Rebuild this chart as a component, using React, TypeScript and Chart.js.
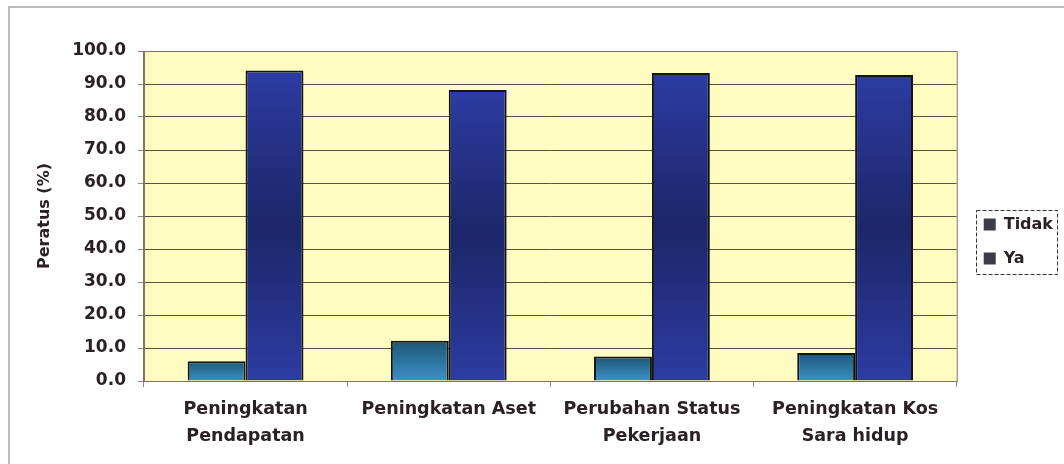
import React, { useEffect, useRef } from "react";
import { Chart, registerables } from "chart.js";

Chart.register(...registerables);

const categories: (string | string[])[] = [
  ["Peningkatan", "Pendapatan"],
  "Peningkatan Aset",
  ["Perubahan Status", "Pekerjaan"],
  ["Peningkatan Kos", "Sara hidup"],
];
const seriesNames = ["Tidak", "Ya"];
const tidakValues = [6.0, 12.2, 7.4, 8.5];
const yaValues = [94.1, 88.2, 93.3, 92.7];
const yTitle = "Peratus (%)";

const TEXT = "#2a2025";
const FONT = "'DejaVu Sans', 'Liberation Sans', Arial, sans-serif";

function barGradient(ctx: any, kind: "tidak" | "ya") {
  const chart = ctx.chart;
  const area = chart.chartArea;
  if (!area) return kind === "ya" ? "#2b3a9c" : "#2a77a6";
  const y = chart.scales.y;
  const v = ctx.raw as number;
  const top = y.getPixelForValue(v);
  const bottom = y.getPixelForValue(0);
  const g = chart.ctx.createLinearGradient(0, top, 0, bottom + 0.01);
  if (kind === "tidak") {
    g.addColorStop(0, "#1d5673");
    g.addColorStop(0.6, "#2f7aa8");
    g.addColorStop(1, "#3f90c4");
  } else {
    g.addColorStop(0, "#2c3ca2");
    g.addColorStop(0.5, "#1c2668");
    g.addColorStop(1, "#2c3ca2");
  }
  return g;
}

const framePlugin = {
  id: "frame",
  beforeDraw(chart: any) {
    const { ctx, chartArea: a, width, height } = chart;
    ctx.save();
    ctx.fillStyle = "#ffffff";
    ctx.fillRect(0, 0, width, height);
    ctx.fillStyle = "#fffcc2";
    ctx.fillRect(a.left, a.top, a.right - a.left, a.bottom - a.top);
    ctx.strokeStyle = "#a6a6a6";
    ctx.lineWidth = 1.5;
    ctx.beginPath();
    ctx.moveTo(9, height);
    ctx.lineTo(9, 7);
    ctx.lineTo(width, 7);
    ctx.stroke();
    ctx.restore();
  },
  afterDraw(chart: any) {
    const { ctx, chartArea: a } = chart;
    ctx.save();
    ctx.strokeStyle = "#8b6f5f";
    ctx.lineWidth = 1;
    ctx.strokeRect(a.left + 0.5, a.top + 0.5, a.right - a.left, a.bottom - a.top);
    const lg = chart.legend;
    if (lg && lg.legendHitBoxes && lg.legendHitBoxes.length) {
      const hb = lg.legendHitBoxes;
      let l = Infinity, r = -Infinity;
      hb.forEach((h: any) => {
        l = Math.min(l, h.left);
        r = Math.max(r, h.left + h.width);
      });
      const c0 = hb[0].top + hb[0].height / 2;
      const c1 = hb[hb.length - 1].top + hb[hb.length - 1].height / 2;
      ctx.strokeStyle = "#333333";
      ctx.lineWidth = 1;
      ctx.setLineDash([4, 2]);
      ctx.strokeRect(Math.round(l - 8) + 0.5, Math.round(c0 - 15) + 0.5, Math.round(r - l + 12), Math.round(c1 - c0 + 30));
    }
    ctx.restore();
  },
};

export default function App() {
  const ref = useRef<HTMLCanvasElement | null>(null);
  useEffect(() => {
    document.body.style.margin = "0";
    const canvas = ref.current;
    if (!canvas) return;
    const chart = new Chart(canvas, {
      type: "bar",
      data: {
        labels: categories,
        datasets: [
          {
            label: seriesNames[0],
            data: tidakValues,
            backgroundColor: (c: any) => barGradient(c, "tidak"),
            borderColor: "#141414",
            borderWidth: 2,
            categoryPercentage: 0.57,
            barPercentage: 1.0,
          },
          {
            label: seriesNames[1],
            data: yaValues,
            backgroundColor: (c: any) => barGradient(c, "ya"),
            borderColor: "#141414",
            borderWidth: 2,
            categoryPercentage: 0.57,
            barPercentage: 1.0,
          },
        ],
      },
      options: {
        animation: false,
        responsive: false,
        maintainAspectRatio: false,
        layout: { padding: { left: 35.5, top: 51, right: 1, bottom: 5 } },
        plugins: {
          tooltip: { enabled: false },
          legend: {
            position: "right",
            align: "center",
            fullSize: false,
            title: {
              display: true,
              text: " ",
              font: { family: FONT, size: 12 },
              padding: 18.3,
            },
            labels: {
              boxWidth: 12,
              boxHeight: 12,
              padding: 18,
              color: TEXT,
              font: { family: FONT, size: 16, weight: "bold" },
              generateLabels: (ch: any) =>
                ch.data.datasets.map((d: any, i: number) => ({
                  text: d.label,
                  fillStyle: "#3a3a48",
                  strokeStyle: "#3a3a48",
                  lineWidth: 0,
                  fontColor: TEXT,
                  datasetIndex: i,
                  hidden: false,
                })),
            },
          },
        },
        scales: {
          x: {
            grid: {
              display: true,
              drawOnChartArea: false,
              tickLength: 6,
              tickColor: "#8b8b8b",
              offset: true,
            },
            border: { display: true, color: "#8b6f5f" },
            ticks: {
              color: TEXT,
              padding: 9,
              font: { family: FONT, size: 17.5, weight: "bold", lineHeight: 27 / 17.5 },
              maxRotation: 0,
              autoSkip: false,
            },
          },
          y: {
            min: 0,
            max: 100,
            ticks: {
              stepSize: 10,
              color: TEXT,
              padding: 12,
              font: { family: FONT, size: 17, weight: "bold" },
              callback: (v: any) => Number(v).toFixed(1),
            },
            grid: {
              color: "#5e5040",
              lineWidth: 1,
              tickLength: 6,
              tickColor: "#8b8b8b",
            },
            border: { display: true, color: "#8b6f5f" },
            title: {
              display: true,
              text: yTitle,
              color: TEXT,
              font: { family: FONT, size: 16, weight: "bold" },
              padding: { top: 0, bottom: 5.5 },
            },
          },
          spacer: {
            type: "linear",
            position: "right",
            display: true,
            grid: { display: false, drawTicks: false },
            border: { display: false },
            ticks: { display: false },
            afterFit: (scale: any) => {
              scale.width = 9;
            },
          },
        },
      },
      plugins: [framePlugin],
    });
    return () => chart.destroy();
  }, []);
  return (
    <div style={{ position: "absolute", left: 0, top: 0, width: 1064, height: 464 }}>
      <canvas ref={ref} width={1064} height={464} style={{ width: 1064, height: 464, display: "block" }} />
    </div>
  );
}
